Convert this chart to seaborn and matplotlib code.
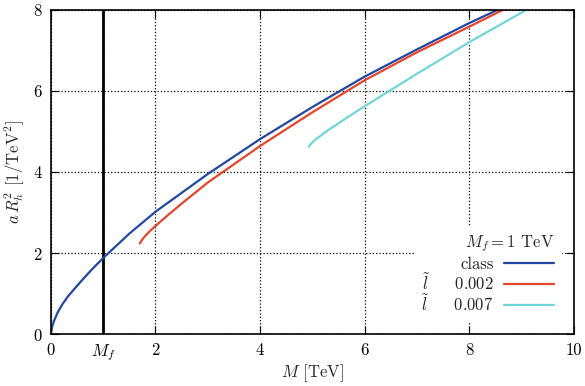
import numpy as np
import matplotlib.pyplot as plt
import pandas as pd
import seaborn as sns

# curves
class_M = [0, 0.02, 0.06, 0.13, 0.22, 0.33, 0.45, 0.58, 0.77, 1.0, 1.5, 2.0, 3.0,
           4.0, 5.0, 6.0, 7.0, 8.0, 8.55]
class_y = [0, 0.17, 0.33, 0.54, 0.74, 0.94, 1.12, 1.31, 1.58, 1.88, 2.48, 3.02, 3.95,
           4.81, 5.60, 6.35, 7.02, 7.67, 8.0]

l002_M = [1.70, 1.75, 1.8, 1.9, 2.0, 2.25, 2.5, 3.0, 4.0, 5.0, 6.0, 7.0, 8.0, 8.65]
l002_y = [2.24, 2.34, 2.42, 2.55, 2.67, 2.95, 3.22, 3.74, 4.64, 5.47, 6.26, 6.95, 7.58, 8.0]

l007_M = [4.93, 4.97, 5.05, 5.3, 5.7, 6.0, 6.4, 7.0, 8.0, 9.1]
l007_y = [4.62, 4.69, 4.79, 5.03, 5.37, 5.62, 5.94, 6.42, 7.20, 8.0]

Mf = 1.0
xticks = [0, 1, 2, 4, 6, 8, 10]
xticklabels = ['0', '$M_f$', '2', '4', '6', '8', '10']
yticks = [0, 2, 4, 6, 8]

sns.set_style('ticks')
plt.rcParams['font.family'] = 'serif'
plt.rcParams['font.serif'] = ['cmr10', 'DejaVu Serif']
plt.rcParams['mathtext.fontset'] = 'cm'
plt.rcParams['axes.formatter.use_mathtext'] = True

class_df = pd.DataFrame({'M': class_M, 'y': class_y})
l002_df = pd.DataFrame({'M': l002_M, 'y': l002_y})
l007_df = pd.DataFrame({'M': l007_M, 'y': l007_y})

fig, ax = plt.subplots(figsize=(5.85, 3.86), dpi=100)
fig.subplots_adjust(left=0.087, right=0.981, bottom=0.134, top=0.975)

ax.grid(True, color='black', linestyle=':', linewidth=0.9)
ax.axvline(Mf, color='black', linewidth=2)

sns.lineplot(data=class_df, x='M', y='y', color='#2347a0', linewidth=1.6,
             label='class', ax=ax, sort=False)
sns.lineplot(data=l002_df, x='M', y='y', color='#e5452c', linewidth=1.6,
             label=r'$\tilde{l}$     0.002', ax=ax, sort=False)
sns.lineplot(data=l007_df, x='M', y='y', color='#72d6d6', linewidth=1.6,
             label=r'$\tilde{l}$     0.007', ax=ax, sort=False)

ax.set_xlim(0, 10)
ax.set_ylim(0, 8)
ax.set_xticks(xticks)
ax.set_xticklabels(xticklabels)
ax.set_yticks(yticks)
ax.tick_params(direction='in', top=True, right=True, length=6, labelsize=12,
               colors='black', pad=6)
for s in ax.spines.values():
    s.set_visible(True)
    s.set_color('black')
    s.set_linewidth(1.2)

ax.set_xlabel('$M$ [TeV]', fontsize=12, labelpad=-1)
ax.set_ylabel('$a\\,R_h^2$ [1/TeV$^2$]', fontsize=12)

leg = ax.legend(title='$M_f = 1$ TeV', loc='lower right', markerfirst=False,
                frameon=True, fancybox=False, framealpha=1, edgecolor='white',
                fontsize=12, title_fontsize=12, handlelength=3.0,
                handletextpad=0.6, labelspacing=0.02, borderpad=0.4,
                borderaxespad=0.8)
leg._legend_box.align = 'right'
leg._legend_box.sep = 2

plt.savefig('out.png', dpi=100)
